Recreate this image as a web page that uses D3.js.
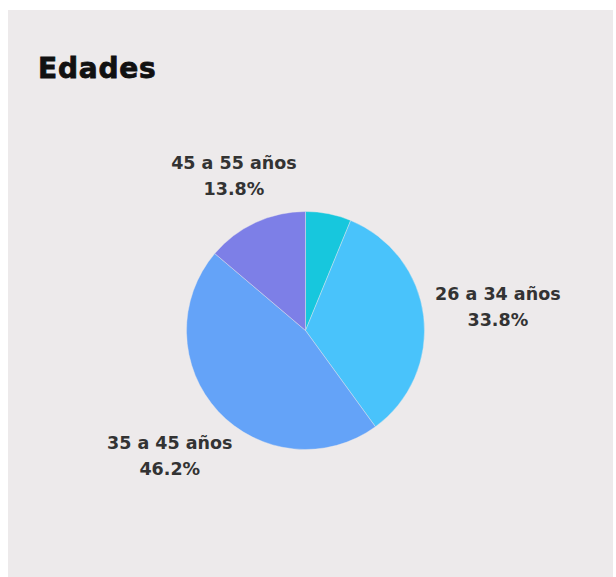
<!DOCTYPE html>
<html>
<head>
<meta charset="utf-8">
<script src="https://cdn.jsdelivr.net/npm/d3@7"></script>
<style>
  body { margin: 0; background: #ffffff; }
</style>
</head>
<body>
<div id="chart"></div>
<script>
// data
const categories = ["18 a 25 años", "26 a 34 años", "35 a 45 años", "45 a 55 años"];
const values = [6.2, 33.8, 46.2, 13.8];
const showLabel = [false, true, true, true];
const colors = ["#17c7dd", "#49c3fb", "#64a3f8", "#7d7fe7"];

const fullWidth = 616;
const fullHeight = 577;

const svg = d3.select("#chart")
  .append("svg")
  .attr("width", fullWidth)
  .attr("height", fullHeight);

// panel
svg.append("rect")
  .attr("x", 8)
  .attr("y", 10)
  .attr("width", 605)
  .attr("height", 567)
  .attr("fill", "#edeaeb");

// === Title ===
svg.append("text")
  .attr("x", 38)
  .attr("y", 78)
  .style("font-family", "DejaVu Sans")
  .style("font-weight", "bold")
  .style("font-size", "28px")
  .style("letter-spacing", "0.8px")
  .style("fill", "#111")
  .style("stroke", "#111")
  .style("stroke-width", "0.8px")
  .text("Edades");

const cx = 305.5, cy = 330.5, radius = 119;

const data = categories.map((c, i) => ({ name: c, value: values[i], color: colors[i], show: showLabel[i] }));

const pie = d3.pie().sort(null).value(d => d.value);
const arc = d3.arc().innerRadius(0).outerRadius(radius);

const g = svg.append("g").attr("transform", `translate(${cx},${cy})`);

const arcs = pie(data);

g.selectAll("path")
  .data(arcs)
  .enter()
  .append("path")
  .attr("d", arc)
  .attr("fill", d => d.data.color)
  .attr("stroke", "#edeaeb")
  .attr("stroke-width", 0.4);

// === Labels ===
const gap = 11;
arcs.filter(d => d.data.show).forEach(d => {
  const mid = (d.startAngle + d.endAngle) / 2;
  const ux = Math.sin(mid), uy = -Math.cos(mid);
  const lbl = g.append("text")
    .attr("text-anchor", "middle")
    .style("font-family", "DejaVu Sans")
    .style("font-weight", "bold")
    .style("font-size", "17.5px")
    .style("fill", "#333");
  lbl.append("tspan").attr("x", 0).attr("dy", 0).text(d.data.name);
  lbl.append("tspan").attr("x", 0).attr("dy", 26).text(d3.format(".1f")(d.data.value) + "%");
  const bb = lbl.node().getBBox();
  const hw = bb.width / 2, hh = bb.height / 2;
  // mix of box and ellipse extent along the slice direction
  const extBox = Math.abs(ux) * hw + Math.abs(uy) * hh;
  const extEll = Math.sqrt((ux * hw) ** 2 + (uy * hh) ** 2);
  const dist = radius + gap + (extBox + extEll) / 2;
  const px = ux * dist, py = uy * dist;
  const bcx = bb.x + hw, bcy = bb.y + hh;
  lbl.attr("transform", `translate(${px - bcx},${py - bcy})`);
});
</script>
</body>
</html>
